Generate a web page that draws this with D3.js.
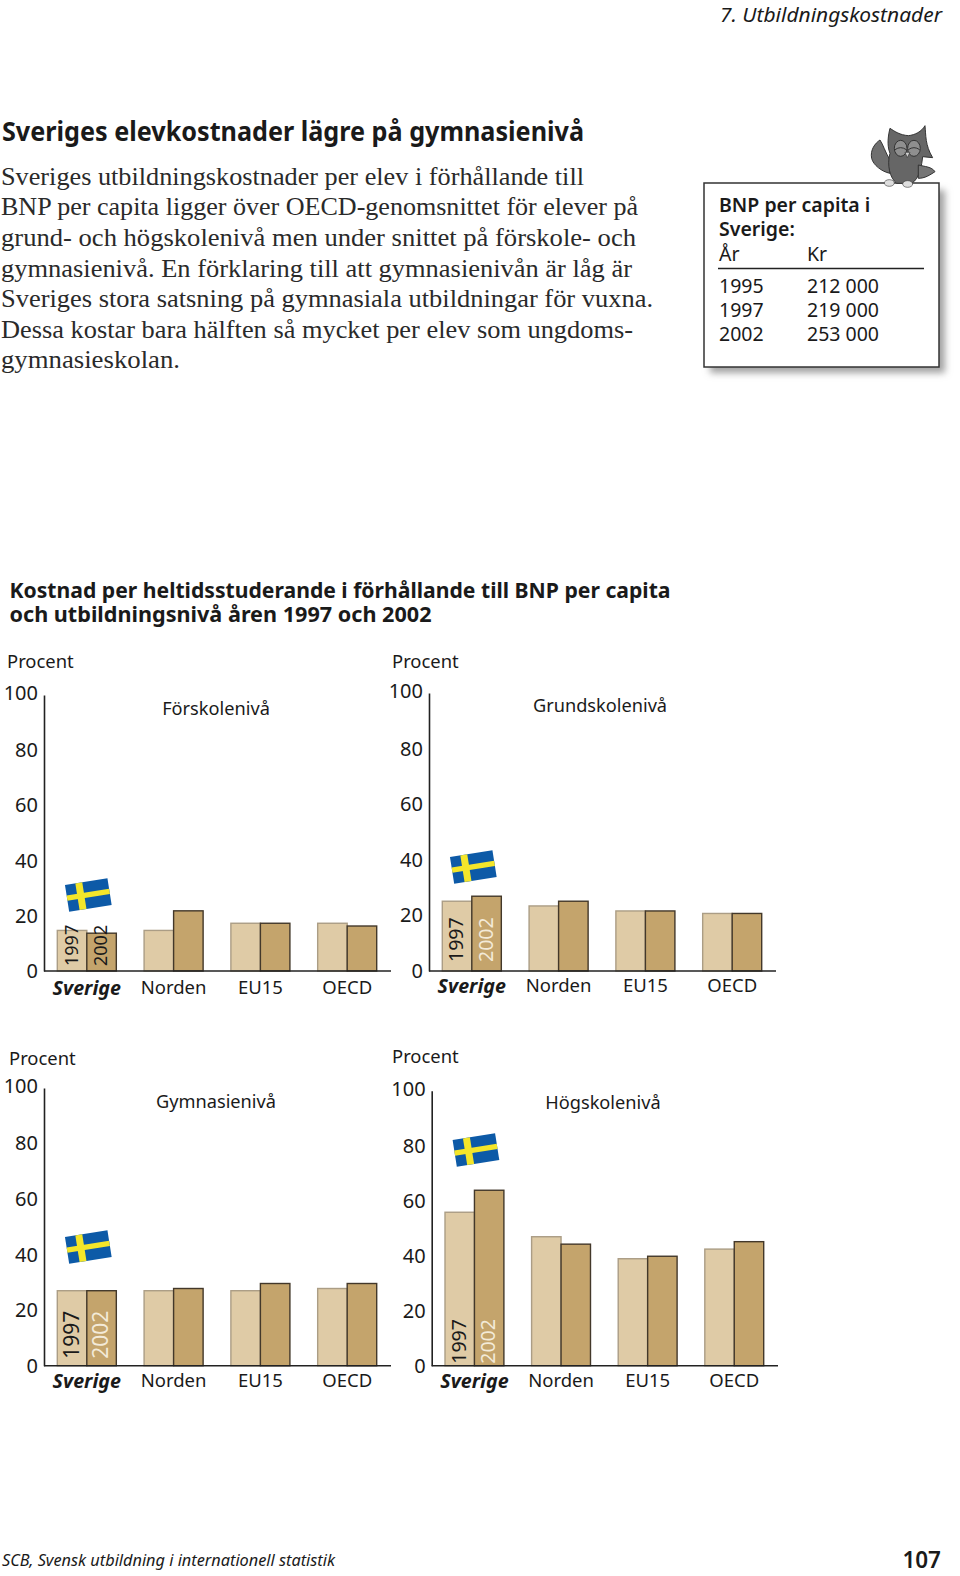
<!DOCTYPE html>
<html>
<head>
<meta charset="utf-8">
<script src="https://d3js.org/d3.v7.min.js"></script>
<style>
  html, body { margin: 0; padding: 0; background: #fff; }
  svg { display: block; }
  text { font-family: "Noto Sans", sans-serif; fill: #1a1a1a; }
  .serif { font-family: "Liberation Serif", serif; fill: #2a2a2a; }
</style>
</head>
<body>
<div id="page"></div>
<script>
// chart values
var categories = ["Sverige", "Norden", "EU15", "OECD"];
var years = ["1997", "2002"];
var yTicks = [0, 20, 40, 60, 80, 100];

var forskola1997 = [14.7, 14.7, 17.3, 17.3];
var forskola2002 = [13.7, 21.8, 17.3, 16.3];
var grund1997 = [25.1, 23.4, 21.6, 20.7];
var grund2002 = [26.9, 25.1, 21.6, 20.7];
var gymnasie1997 = [27.0, 27.0, 27.0, 27.8];
var gymnasie2002 = [27.0, 27.8, 29.6, 29.6];
var hogskola1997 = [55.8, 46.9, 38.9, 42.4];
var hogskola2002 = [63.8, 44.2, 39.8, 45.1];

// page text
var bodyLines = [
  "Sveriges utbildningskostnader per elev i förhållande till",
  "BNP per capita ligger över OECD-genomsnittet för elever på",
  "grund- och högskolenivå men under snittet på förskole- och",
  "gymnasienivå. En förklaring till att gymnasienivån är låg är",
  "Sveriges stora satsning på gymnasiala utbildningar för vuxna.",
  "Dessa kostar bara hälften så mycket per elev som ungdoms-",
  "gymnasieskolan."
];
var bodyBaselines = [185, 215, 246, 277, 307, 338, 368];
var bodyWidths = [583, 637, 635, 631, 652, 632, 179];
var boxYears = ["1995", "1997", "2002"];
var boxKronor = ["212 000", "219 000", "253 000"];

var svgWidth = 960;
var svgHeight = 1576;

var colors = { "1997": "#dfcba6", "2002": "#c4a46c" };
var strokes = { "1997": "#ab9d85", "2002": "#43382a" };

var svg = d3.select("#page")
  .append("svg")
  .attr("width", svgWidth)
  .attr("height", svgHeight);

var defs = svg.append("defs");
defs.append("filter")
  .attr("id", "blur")
  .attr("x", "-10%").attr("y", "-10%")
  .attr("width", "120%").attr("height", "120%")
  .append("feGaussianBlur")
  .attr("stdDeviation", 3.5);

// small helper for plain text
function addText(x, y, str, size, opts) {
  opts = opts || {};
  var t = svg.append("text")
    .attr("x", x)
    .attr("y", y)
    .attr("font-size", size)
    .attr("font-weight", opts.weight || "normal")
    .attr("font-style", opts.style || "normal")
    .attr("text-anchor", opts.anchor || "start")
    .attr("class", opts.cls || null)
    .text(str);
  if (opts.len) {
    t.attr("textLength", opts.len).attr("lengthAdjust", "spacingAndGlyphs");
  }
  return t;
}

// page header + intro text
addText(942, 22, "7. Utbildningskostnader", 20.5, { style: "italic", anchor: "end", len: 222 });
addText(2, 141, "Sveriges elevkostnader lägre på gymnasienivå", 26.5, { weight: "bold", len: 582 });
bodyLines.forEach(function(line, i) {
  addText(1, bodyBaselines[i], line, 26.2, { cls: "serif", len: bodyWidths[i] });
});

// fact box
svg.append("rect")
  .attr("x", 710).attr("y", 190)
  .attr("width", 235).attr("height", 183)
  .attr("fill", "#a3a3a3")
  .attr("filter", "url(#blur)");
svg.append("rect")
  .attr("x", 704).attr("y", 183)
  .attr("width", 235).attr("height", 184)
  .attr("fill", "#fff")
  .attr("stroke", "#333")
  .attr("stroke-width", 1.5);
addText(719, 212, "BNP per capita i", 19.5, { weight: "600" });
addText(719, 236, "Sverige:", 19.5, { weight: "600" });
addText(719, 261, "År", 19.5);
addText(807, 261, "Kr", 19.5);
svg.append("line")
  .attr("x1", 718).attr("x2", 924)
  .attr("y1", 268.5).attr("y2", 268.5)
  .attr("stroke", "#222")
  .attr("stroke-width", 1.3);
boxYears.forEach(function(year, i) {
  addText(719, 293 + i * 24, year, 19.5);
  addText(807, 293 + i * 24, boxKronor[i], 19.5);
});

// owl sitting on the box
var owl = svg.append("g").attr("transform", "translate(690,115) scale(0.3333)");
owl.append("path")
  .attr("d", "M600,135 C585,110 580,90 570,75 C555,85 540,105 545,130 C550,150 575,170 600,175 Z")
  .attr("fill", "#6f6f6f").attr("stroke", "#333").attr("stroke-width", 3);
owl.append("path")
  .attr("d", "M600,40 C615,50 630,60 655,62 C675,60 695,50 705,32 C708,60 705,90 728,128 L698,125 C695,150 690,190 665,205 L620,205 C600,190 590,150 600,115 C590,90 595,60 600,40 Z")
  .attr("fill", "#666").attr("stroke", "#333").attr("stroke-width", 3);
owl.append("path")
  .attr("d", "M685,150 C705,155 725,155 735,170 C720,180 705,190 685,190 Z")
  .attr("fill", "#767676").attr("stroke", "#333").attr("stroke-width", 3);
owl.selectAll("ellipse.eye")
  .data([[632, 100], [672, 100]])
  .enter()
  .append("ellipse")
  .attr("class", "eye")
  .attr("cx", d => d[0])
  .attr("cy", d => d[1])
  .attr("rx", 19)
  .attr("ry", 24)
  .attr("fill", "#8f8f8f")
  .attr("stroke", "#333")
  .attr("stroke-width", 3);
owl.selectAll("path.lid")
  .data([632, 672])
  .enter()
  .append("path")
  .attr("class", "lid")
  .attr("d", d => "M" + (d - 17) + ",104 Q" + d + ",92 " + (d + 17) + ",104")
  .attr("fill", "none")
  .attr("stroke", "#333")
  .attr("stroke-width", 3);
owl.append("path")
  .attr("d", "M645,112 L660,112 L652,128 Z")
  .attr("fill", "#d0d0d0").attr("stroke", "#333").attr("stroke-width", 2);
owl.selectAll("ellipse.foot")
  .data([[598, 204], [653, 207]])
  .enter()
  .append("ellipse")
  .attr("class", "foot")
  .attr("cx", d => d[0])
  .attr("cy", d => d[1])
  .attr("rx", 15)
  .attr("ry", 10)
  .attr("fill", "#dedede")
  .attr("stroke", "#444")
  .attr("stroke-width", 2);

// chart heading, two lines in one text element
var heading = svg.append("text")
  .attr("font-size", 21.5)
  .attr("font-weight", "bold");
heading.append("tspan")
  .attr("x", 9.5).attr("y", 598)
  .attr("textLength", 661).attr("lengthAdjust", "spacingAndGlyphs")
  .text("Kostnad per heltidsstuderande i förhållande till BNP per capita");
heading.append("tspan")
  .attr("x", 9.5).attr("y", 622)
  .attr("textLength", 422).attr("lengthAdjust", "spacingAndGlyphs")
  .text("och utbildningsnivå åren 1997 och 2002");

// the four panels, values come from the arrays above
var panels = [
  { title: "Förskolenivå", v1997: forskola1997, v2002: forskola2002,
    axisX: 44, baseY: 971, topY: 695, lineEnd: 391, x0: 57.3, x1: 376.7,
    procent: [7, 668], titlePos: [216, 715], labelGap: 23, flagY: 895,
    yearSize: 18, yearGap: 5, color2002: "#1a1a1a" },
  { title: "Grundskolenivå", v1997: grund1997, v2002: grund2002,
    axisX: 429, baseY: 971, topY: 693, lineEnd: 776, x0: 442.3, x1: 761.7,
    procent: [392, 668], titlePos: [600, 712], labelGap: 21, flagY: 867,
    yearSize: 19.5, yearGap: 9, color2002: "#f3ead8" },
  { title: "Gymnasienivå", v1997: gymnasie1997, v2002: gymnasie2002,
    axisX: 44, baseY: 1365.7, topY: 1088, lineEnd: 391, x0: 57.3, x1: 376.7,
    procent: [9, 1065], titlePos: [216, 1108], labelGap: 21, flagY: 1247,
    yearSize: 21, yearGap: 7, color2002: "#f3ead8" },
  { title: "Högskolenivå", v1997: hogskola1997, v2002: hogskola2002,
    axisX: 431.7, baseY: 1365.7, topY: 1090.7, lineEnd: 778, x0: 445, x1: 763.7,
    procent: [392, 1063], titlePos: [603, 1109], labelGap: 21, flagY: 1150,
    yearSize: 19.5, yearGap: 2, color2002: "#f3ead8" }
];

function drawPanel(p) {
  var yScale = d3.scaleLinear()
    .domain([0, 100])
    .range([p.baseY, p.topY]);

  var xGroup = d3.scaleBand()
    .domain(categories)
    .range([p.x0, p.x1])
    .paddingInner(0.32);

  var xBar = d3.scaleBand()
    .domain(years)
    .range([0, xGroup.bandwidth()]);

  var rows = [];
  years.forEach(function(year) {
    var vals = year === "1997" ? p.v1997 : p.v2002;
    categories.forEach(function(cat, i) {
      rows.push({ cat: cat, year: year, value: vals[i] });
    });
  });

  var chartGroup = svg.append("g");

  chartGroup.selectAll(".bar")
    .data(rows)
    .enter()
    .append("rect")
    .attr("class", "bar")
    .attr("x", d => xGroup(d.cat) + xBar(d.year))
    .attr("y", d => yScale(d.value))
    .attr("width", xBar.bandwidth())
    .attr("height", d => yScale(0) - yScale(d.value))
    .attr("fill", d => colors[d.year])
    .attr("stroke", d => strokes[d.year])
    .attr("stroke-width", 1.4);

  // rotated year labels in the Sverige bars
  chartGroup.selectAll(".yearLabel")
    .data(years)
    .enter()
    .append("text")
    .attr("class", "yearLabel")
    .attr("transform", d => "translate(" + (xGroup("Sverige") + xBar(d) + xBar.bandwidth() / 2 - 1) + "," + (p.baseY - p.yearGap) + ") rotate(-90)")
    .attr("dy", "0.36em")
    .attr("font-size", p.yearSize)
    .style("fill", d => d === "1997" ? "#1a1a1a" : p.color2002)
    .text(d => d);

  // y axis
  var leftAxis = d3.axisLeft(yScale)
    .tickValues(yTicks)
    .tickSize(0)
    .tickPadding(6);
  var yAxis = chartGroup.append("g")
    .attr("transform", "translate(" + p.axisX + ",0)")
    .call(leftAxis);
  yAxis.select(".domain").attr("stroke", "#222").attr("stroke-width", 1.6);
  yAxis.selectAll("text")
    .attr("font-size", 20)
    .attr("font-family", "Noto Sans");
  yAxis.selectAll("text")
    .filter(d => d === 100)
    .attr("y", -2);

  // baseline runs from the axis out to the right
  chartGroup.append("line")
    .attr("x1", p.axisX)
    .attr("x2", p.lineEnd)
    .attr("y1", yScale(0))
    .attr("y2", yScale(0))
    .attr("stroke", "#222")
    .attr("stroke-width", 1.6);

  // x axis labels
  var bottomAxis = d3.axisBottom(xGroup)
    .tickSize(0)
    .tickPadding(0);
  var xAxis = chartGroup.append("g")
    .attr("transform", "translate(0," + p.baseY + ")")
    .call(bottomAxis);
  xAxis.select(".domain").remove();
  xAxis.selectAll("text")
    .attr("y", p.labelGap)
    .attr("dy", 0)
    .attr("font-size", 18.5)
    .attr("font-family", "Noto Sans");
  xAxis.selectAll("text")
    .filter(d => d === "Sverige")
    .attr("y", p.labelGap + 1)
    .attr("font-size", 19.7)
    .attr("font-weight", "bold")
    .attr("font-style", "italic");

  chartGroup.append("text")
    .attr("x", p.procent[0])
    .attr("y", p.procent[1])
    .attr("font-size", 18.4)
    .text("Procent");

  chartGroup.append("text")
    .attr("x", p.titlePos[0])
    .attr("y", p.titlePos[1])
    .attr("text-anchor", "middle")
    .attr("font-size", 18.2)
    .text(p.title);

  // swedish flag over the Sverige bars
  var flag = chartGroup.append("g")
    .attr("transform", "translate(" + (xGroup("Sverige") + xGroup.bandwidth() / 2 + 1.5) + "," + p.flagY + ") rotate(-9)");
  flag.append("rect")
    .attr("x", -21.5).attr("y", -13.5)
    .attr("width", 43).attr("height", 27)
    .attr("fill", "#0d5aa7");
  flag.append("rect")
    .attr("x", -11).attr("y", -13.5)
    .attr("width", 7).attr("height", 27)
    .attr("fill", "#f4e62a");
  flag.append("rect")
    .attr("x", -21.5).attr("y", -3)
    .attr("width", 43).attr("height", 5.5)
    .attr("fill", "#f4e62a");
}

panels.forEach(drawPanel);

// footer
addText(2, 1566, "SCB, Svensk utbildning i internationell statistik", 16.5, { style: "italic", len: 333 });
addText(941, 1568, "107", 22.5, { weight: "600", anchor: "end" });
</script>
</body>
</html>
